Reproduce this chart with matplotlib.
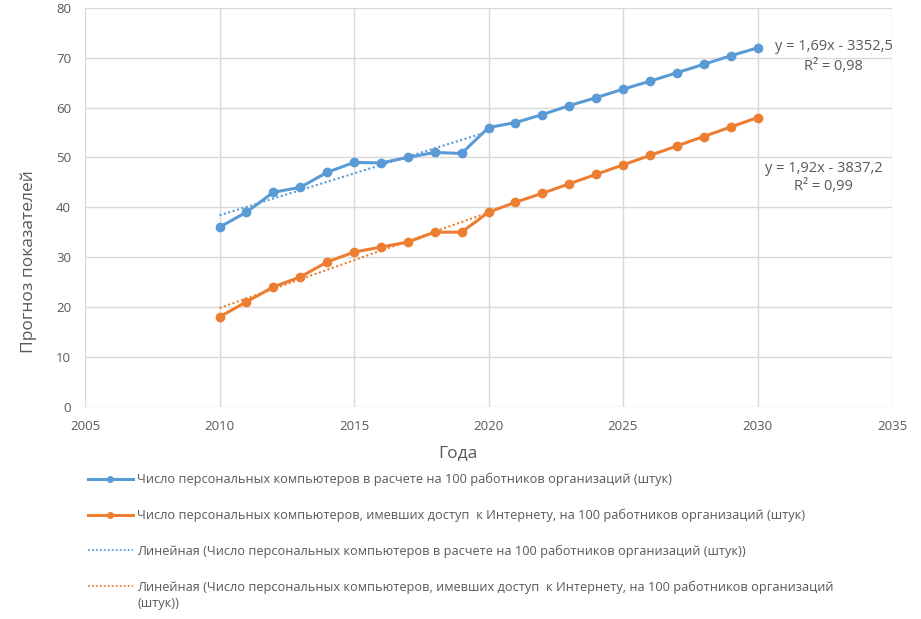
import numpy as np
import matplotlib
matplotlib.use("Agg")
import matplotlib.pyplot as plt
from matplotlib.lines import Line2D

years = list(range(2010, 2031))
pc_per_100 = [36, 39, 43, 44, 47, 49, 48.9, 50, 51, 50.8, 56,
              57, 58.6, 60.4, 62, 63.7, 65.3, 67, 68.7, 70.4, 72]
pc_internet_per_100 = [18, 21, 24, 26, 29, 31, 32, 33, 35, 35, 39,
                       41, 42.8, 44.7, 46.6, 48.5, 50.4, 52.3, 54.2, 56.1, 58]
fit_end_year = 2020
eq_blue = ["y = 1,69x - 3352,5", "R² = 0,98"]
eq_orange = ["y = 1,92x - 3837,2", "R² = 0,99"]
labels = [
    "Число персональных компьютеров в расчете на 100 работников организаций (штук)",
    "Число персональных компьютеров, имевших доступ  к Интернету, на 100 работников организаций (штук)",
    "Линейная (Число персональных компьютеров в расчете на 100 работников организаций (штук))",
    "Линейная (Число персональных компьютеров, имевших доступ  к Интернету, на 100 работников организаций",
]
label_tail = "(штук))"
x_ticks = [2005, 2010, 2015, 2020, 2025, 2030, 2035]
y_ticks = [0, 10, 20, 30, 40, 50, 60, 70, 80]

plt.rcParams['font.family'] = ['Open Sans', 'DejaVu Sans']

BLUE = '#5B9BD5'
ORANGE = '#ED7D31'
GRAY = '#595959'

fig = plt.figure(figsize=(9.21, 6.19), dpi=100)
W, H = 921, 619
ax = fig.add_axes([85 / W, 1 - 406.5 / H, (892 - 85) / W, (406.5 - 8) / H])

yrs = np.array(years)
mask = yrs <= fit_end_year
for vals, col, lab in [(pc_per_100, BLUE, labels[0]), (pc_internet_per_100, ORANGE, labels[1])]:
    ax.plot(years, vals, color=col, lw=2.2, marker='o', ms=6, label=lab, zorder=3)

for vals, col in [(pc_per_100, BLUE), (pc_internet_per_100, ORANGE)]:
    v = np.array(vals)
    k, b = np.polyfit(yrs[mask], v[mask], 1)
    xs = np.array([yrs[mask][0], yrs[mask][-1]])
    ax.plot(xs, k * xs + b, color=col, lw=1.5, ls=(0, (1, 1.2)), zorder=4)

ax.set_xlim(2005, 2035)
ax.set_ylim(0, 80)
ax.set_xticks(x_ticks)
ax.set_yticks(y_ticks)
ax.grid(True, color='#D9D9D9', lw=1)
ax.set_axisbelow(True)
for s in ax.spines.values():
    s.set_visible(False)
ax.tick_params(length=0, colors=GRAY, labelsize=9.5)
ax.tick_params(axis='x', pad=10)
ax.tick_params(axis='y', pad=10)

ax.set_xlabel("Года", fontsize=12.5, color=GRAY)
ax.xaxis.set_label_coords((458 - 85) / 807, (406 - 453) / 398)
ax.xaxis.label.set_va('center')
ax.set_ylabel("Прогноз показателей", fontsize=12.5, color=GRAY)
ax.yaxis.set_label_coords((29 - 85) / 807, (406 - 261) / 398)
ax.yaxis.label.set_va('center')

# trendline equations
eq_fs = 10.5
fig.text(834 / W, 1 - 47 / H, eq_blue[0], ha='center', va='center', fontsize=eq_fs, color=GRAY)
fig.text(833.5 / W, 1 - 67 / H, eq_blue[1], ha='center', va='center', fontsize=eq_fs, color=GRAY)
fig.text(823.5 / W, 1 - 168 / H, eq_orange[0], ha='center', va='center', fontsize=eq_fs, color=GRAY)
fig.text(823 / W, 1 - 187 / H, eq_orange[1], ha='center', va='center', fontsize=eq_fs, color=GRAY)

handles = [
    Line2D([], [], color=BLUE, lw=2.2, marker='o', ms=4),
    Line2D([], [], color=ORANGE, lw=2.2, marker='o', ms=4),
    Line2D([], [], color=BLUE, lw=1.3, ls=(0, (1, 1.2))),
    Line2D([], [], color=ORANGE, lw=1.3, ls=(0, (1, 1.2))),
]
lfs = 9.2
leg = fig.legend(handles, labels, loc='upper left', bbox_to_anchor=(88 / W, 1 - 473 / H),
                 frameon=False, fontsize=lfs, labelspacing=1.75, handlelength=3.5,
                 handletextpad=0.3, borderpad=0, borderaxespad=0)
for t in leg.get_texts():
    t.set_color(GRAY)
fig.text(137 / W, 1 - 604 / H, label_tail, ha='left', va='center', fontsize=lfs, color=GRAY)

fig.savefig("out.png", dpi=100)
